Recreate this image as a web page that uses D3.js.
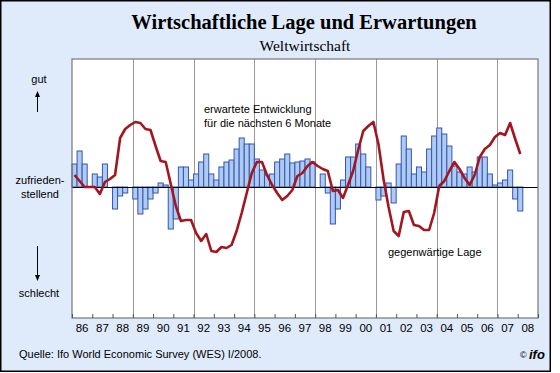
<!DOCTYPE html>
<html>
<head>
<meta charset="utf-8">
<script src="https://cdn.jsdelivr.net/npm/d3@7"></script>
<style>
  body { margin: 0; background: #fff; }
  svg { display: block; }
</style>
</head>
<body>
<div id="chart"></div>
<script>
// Quarterly data, starting 1986 Q1
const startYear = 1986;
const endYear = 2009;

// bars: erwartete Entwicklung (balance, arbitrary units)
const erwartungen = [
    23, 36, 23, 0,      // 1986
    13, 10, 23, 0,      // 1987
    -22, -9, -6, 0,     // 1988
    -12, -27, -22, -12, // 1989
    -6, 4, 2, -42,      // 1990
    -32, 20, 20, 7,     // 1991
    13, 25, 33, 13,     // 1992
    7, 20, 25, 27,      // 1993
    38, 49, 43, 43,     // 1994
    28, 17, 12, 13,     // 1995
    25, 28, 33, 24,     // 1996
    25, 26, 28, 25,     // 1997
    0, 13, -6, -37,     // 1998
    -22, 7, 30, 30,     // 1999
    43, 33, 20, 0,      // 2000
    -13, -9, 4, -16,    // 2001
    23, 51, 38, 13,     // 2002
    20, 15, 38, 51,     // 2003
    59, 53, 41, 21,     // 2004
    15, 13, 20, 15,     // 2005
    30, 30, 13, 2,      // 2006
    4, 7, 17, -12,      // 2007
    -24                 // 2008
];

// line: gegenwärtige Lage
const lage = [
    12, 6, 0, 0,
    0, -7, 5, 8,
    12, 49, 58, 62,
    65, 64, 58, 57,
    41, 26, 25, 3,
    -19, -34, -33, -33,
    -46, -54, -47, -64,
    -65, -60, -61, -58,
    -44, -26, -6, 14,
    25, 25, 12, 2,
    -6, -13, -9, -3,
    11, 14, 21, 25,
    21, 18, 16, -4,
    -3, -11, 2, 16,
    37, 56, 61, 65,
    43, 8, -20, -44,
    -49, -25, -24, -38,
    -39, -43, -43, -26,
    1, 6, 16, 25,
    18, 9, 2, 12,
    30, 38, 42, 50,
    54, 52, 64, 48,
    33
];

const yearLabels = ["86", "87", "88", "89", "90", "91", "92", "93", "94", "95", "96", "97",
    "98", "99", "00", "01", "02", "03", "04", "05", "06", "07", "08"];
const gridYears = [1989, 1992, 1995, 1998, 2001, 2004, 2007];

const width = 560;
const height = 373;
const marginLeft = 72;
const marginRight = 22;
const marginTop = 59;
const marginBottom = 55;

const sans = "'Liberation Sans', Arial, sans-serif";
const serif = "'Liberation Serif', 'Times New Roman', serif";

const svg = d3.select("#chart")
    .append("svg")
    .attr("width", width)
    .attr("height", height);

// Frame
svg.append("rect")
    .attr("x", 0.75).attr("y", 0.75)
    .attr("width", 549.5).attr("height", 370.5)
    .attr("fill", "#dfeafb")
    .attr("stroke", "#000")
    .attr("stroke-width", 1.5);

// Scales
const x = d3.scaleLinear()
    .domain([startYear, endYear])
    .range([marginLeft, width - marginRight - 0]);
const y = d3.scaleLinear()
    .domain([-131, 128])
    .range([height - marginBottom, marginTop]);

const q = (i) => startYear + i / 4;

// Plot background
svg.append("rect")
    .attr("x", x(startYear)).attr("y", y(128))
    .attr("width", x(endYear) - x(startYear))
    .attr("height", y(-131) - y(128))
    .attr("fill", "#fff");

// Vertical grid lines
svg.append("g")
    .selectAll("line")
    .data(gridYears)
    .join("line")
    .attr("x1", d => Math.round(x(d)) + 0.5)
    .attr("x2", d => Math.round(x(d)) + 0.5)
    .attr("y1", y(128))
    .attr("y2", y(-131))
    .attr("stroke", "#999")
    .attr("stroke-width", 1);

// Bars
svg.append("g")
    .selectAll("rect")
    .data(erwartungen)
    .join("rect")
    .attr("x", (d, i) => x(q(i)))
    .attr("width", (d, i) => x(q(i + 1)) - x(q(i)))
    .attr("y", d => y(Math.max(0, d)))
    .attr("height", d => Math.abs(y(d) - y(0)))
    .attr("fill", "#aecbf3")
    .attr("stroke", "#3656b0")
    .attr("stroke-width", 1);

// Zero line
svg.append("line")
    .attr("x1", x(startYear)).attr("x2", x(endYear))
    .attr("y1", Math.round(y(0)) + 0.5).attr("y2", Math.round(y(0)) + 0.5)
    .attr("stroke", "#000")
    .attr("stroke-width", 1);

// Line
const line = d3.line()
    .x((d, i) => x(q(i + 0.5)))
    .y(d => y(d));

svg.append("path")
    .datum(lage)
    .attr("fill", "none")
    .attr("stroke", "#a3161f")
    .attr("stroke-width", 2.6)
    .attr("stroke-linejoin", "round")
    .attr("d", line);

// Plot border
svg.append("rect")
    .attr("x", x(startYear)).attr("y", y(128))
    .attr("width", x(endYear) - x(startYear))
    .attr("height", y(-131) - y(128))
    .attr("fill", "none")
    .attr("stroke", "#777")
    .attr("stroke-width", 1.2);

// Bottom axis: ticks inside, labels centred in each year
svg.append("g")
    .attr("transform", `translate(0,${y(-131)})`)
    .call(d3.axisBottom(x)
        .tickValues(d3.range(startYear, endYear + 1))
        .tickSize(-4)
        .tickFormat(""))
    .call(g => g.select(".domain").remove())
    .call(g => g.selectAll(".tick line").attr("stroke", "#555"));

svg.append("g")
    .selectAll("text")
    .data(yearLabels)
    .join("text")
    .attr("x", (d, i) => x(startYear + i + 0.5))
    .attr("y", y(-131) + 14)
    .attr("text-anchor", "middle")
    .attr("font-family", sans)
    .attr("font-size", 11.5)
    .attr("fill", "#000")
    .text(d => d);

// Left labels
const leftLabels = svg.append("g")
    .attr("font-family", sans)
    .attr("font-size", 11)
    .attr("text-anchor", "middle")
    .attr("fill", "#000");
leftLabels.append("text").attr("x", 39).attr("y", 83).text("gut");
leftLabels.append("text").attr("x", 40).attr("y", 184).text("zufrieden-");
leftLabels.append("text").attr("x", 40).attr("y", 198).text("stellend");
leftLabels.append("text").attr("x", 39).attr("y", 297).text("schlecht");

// Arrows
const arrows = svg.append("g").attr("stroke", "#000").attr("fill", "#000");
arrows.append("line").attr("x1", 37.5).attr("x2", 37.5).attr("y1", 112).attr("y2", 95).attr("stroke-width", 1);
arrows.append("path").attr("d", "M37.5,91 L35,97 L40,97 Z").attr("stroke", "none");
arrows.append("line").attr("x1", 37.5).attr("x2", 37.5).attr("y1", 246).attr("y2", 277).attr("stroke-width", 1);
arrows.append("path").attr("d", "M37.5,281 L35,275 L40,275 Z").attr("stroke", "none");

// Series annotations
const notes = svg.append("g")
    .attr("font-family", sans)
    .attr("font-size", 11)
    .attr("fill", "#000");
notes.append("text").attr("x", 204).attr("y", 113).text("erwartete Entwicklung");
notes.append("text").attr("x", 204).attr("y", 127).text("für die nächsten 6 Monate");
notes.append("text").attr("x", 388).attr("y", 256).text("gegenwärtige Lage");

// Titles
svg.append("text")
    .attr("x", 304).attr("y", 29)
    .attr("text-anchor", "middle")
    .attr("font-family", serif)
    .attr("font-weight", "bold")
    .attr("font-size", 20.5)
    .text("Wirtschaftliche Lage und Erwartungen");
svg.append("text")
    .attr("x", 305).attr("y", 51)
    .attr("text-anchor", "middle")
    .attr("font-family", serif)
    .attr("font-size", 15.5)
    .text("Weltwirtschaft");

// Source and logo
svg.append("text")
    .attr("x", 19).attr("y", 358)
    .attr("font-family", sans)
    .attr("font-size", 11)
    .text("Quelle: Ifo World Economic Survey (WES) I/2008.");
svg.append("text")
    .attr("x", 520).attr("y", 358)
    .attr("font-family", sans)
    .attr("font-size", 9)
    .text("©");
svg.append("text")
    .attr("x", 529).attr("y", 359)
    .attr("font-family", sans)
    .attr("font-size", 13)
    .attr("font-weight", "bold")
    .attr("font-style", "italic")
    .text("ifo");
</script>
</body>
</html>
